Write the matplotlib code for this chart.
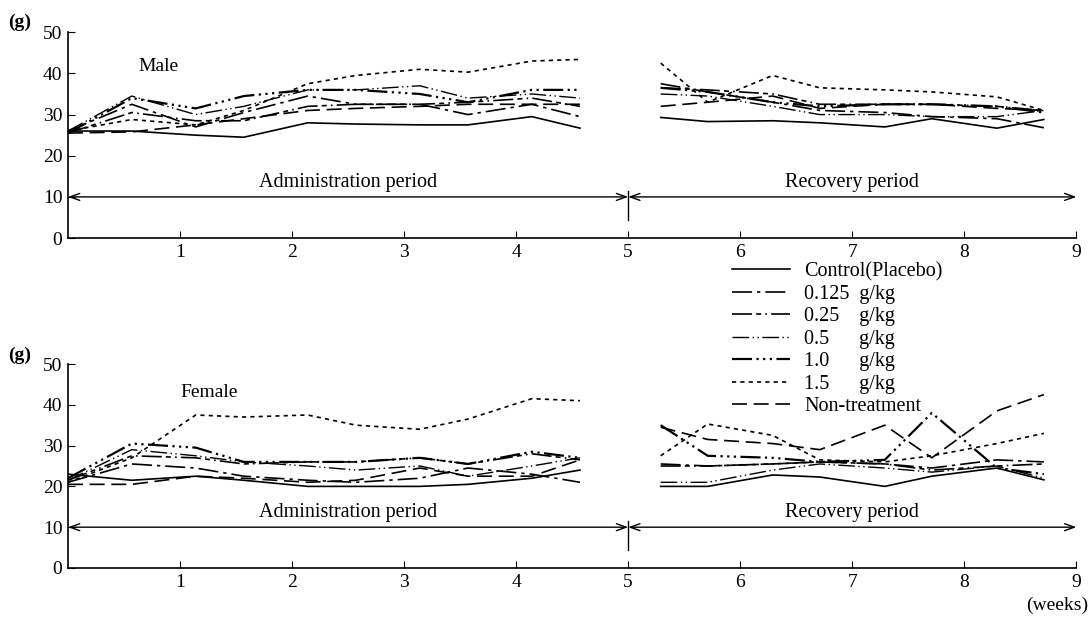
import matplotlib
matplotlib.use("Agg")
import matplotlib.pyplot as plt

plt.rcParams['font.family'] = ['Liberation Serif', 'DejaVu Serif']

# Data: body weight (g) of mice
t_admin = [0, 0.57, 1.14, 1.57, 2.14, 2.57, 3.14, 3.57, 4.14, 4.57]
t_recov = [5.29, 5.71, 6.29, 6.71, 7.29, 7.71, 8.29, 8.71]

groups = ['Control(Placebo)', '0.125  g/kg', '0.25    g/kg', '0.5      g/kg',
          '1.0      g/kg', '1.5      g/kg', 'Non-treatment']

male_admin = [
    [26, 26, 25, 24.5, 28, 27.7, 27.5, 27.5, 29.5, 26.7],
    [26, 32.5, 27, 30.5, 34.5, 32.5, 32.5, 30, 32.5, 29.5],
    [25.5, 30.5, 28.5, 28.5, 32, 32.5, 32.5, 33, 34, 32],
    [26, 34.5, 30, 32, 36, 36, 37, 34, 35, 34],
    [25.5, 34, 31.5, 34.5, 36, 36, 35, 33, 36, 36],
    [26, 28.8, 27.5, 31, 37.5, 39.5, 41, 40.3, 43, 43.4],
    [25.5, 25.8, 27.5, 29, 31, 31.5, 32, 32.5, 32.5, 32.5],
]
male_recov = [
    [29.3, 28.3, 28.5, 28, 27, 29, 26.7, 28.8],
    [37.5, 35.5, 33, 31, 30.5, 29.5, 29, 26.8],
    [36.5, 36, 35, 32.5, 32.5, 32.5, 32, 31],
    [35, 34.5, 32, 30, 30, 29.5, 29.5, 31],
    [36.5, 35.5, 33, 32, 32.5, 32.5, 32, 30.5],
    [42.5, 33, 39.5, 36.5, 36, 35.5, 34.3, 31],
    [32, 33, 34.5, 31.5, 32.5, 32.5, 31.5, 31],
]
female_admin = [
    [23, 21.5, 22.5, 21.5, 20, 20, 20, 20.5, 22, 24],
    [21, 25.5, 24.5, 22.5, 21.5, 21, 22, 24.5, 23, 21],
    [21.5, 27.5, 27, 25.5, 26, 26, 27, 25.5, 28, 26.5],
    [21.5, 29, 27.5, 26, 25, 24, 25, 22.5, 25, 27],
    [22, 30.5, 29.5, 26, 26, 26, 27, 25.5, 28.5, 27],
    [21, 27, 37.5, 37, 37.5, 35, 34, 36.5, 41.5, 41],
    [20.5, 20.5, 22.5, 22, 21, 21.5, 24.5, 22.5, 22.5, 26.5],
]
female_recov = [
    [20, 20, 22.8, 22.3, 20, 22.5, 24.5, 21.6],
    [25.5, 25, 25.5, 26, 25.5, 24.5, 26.5, 26],
    [25, 25, 25.5, 26, 25.5, 24, 25, 25.5],
    [21, 21, 24, 25.5, 24.5, 23.5, 25, 22],
    [35, 27.5, 27, 26, 26.5, 38, 24.5, 23],
    [27.5, 35.3, 32.5, 26.5, 26, 27.5, 30.5, 33],
    [34.5, 31.5, 30.5, 29, 35, 27, 38.5, 42.5],
]

styles = [
    ('-', 1.2),
    ((0, (12, 3, 2, 3)), 1.2),
    ((0, (12, 2.5, 3, 2.5, 1, 2.5)), 1.2),
    ((0, (12, 2.5, 1, 2.5, 1, 2.5)), 1.0),
    ((0, (9, 2, 1, 2, 1, 2, 1, 2)), 1.6),
    ((0, (2.5, 2.5)), 1.2),
    ((0, (9, 4)), 1.2),
]

fig = plt.figure(figsize=(10.89, 6.2), dpi=100)
ax1 = fig.add_axes([0.0624, 0.616, 0.926, 0.332])
ax2 = fig.add_axes([0.0624, 0.0839, 0.926, 0.329])


def draw(ax, admin, recov, title, tx, ty):
    handles = []
    for i in range(len(groups)):
        ls, lw = styles[i]
        h, = ax.plot(t_admin, admin[i], color='black', linestyle=ls, lw=lw, label=groups[i])
        ax.plot(t_recov, recov[i], color='black', linestyle=ls, lw=lw)
        handles.append(h)
    ax.set_xlim(0, 9)
    ax.set_ylim(0, 50)
    ax.spines['top'].set_visible(False)
    ax.spines['right'].set_visible(False)
    ax.spines['left'].set_linewidth(1.2)
    ax.spines['bottom'].set_linewidth(1.2)
    ax.set_xticks(range(1, 10))
    ax.set_yticks(range(0, 51, 10))
    ax.tick_params(axis='both', direction='in', length=5, labelsize=14, pad=4)
    ax.text(tx, ty, title, fontsize=14)
    # period arrows
    arr = dict(arrowstyle='<->,head_length=0.7,head_width=0.25', color='black',
               lw=1.0, shrinkA=0, shrinkB=0)
    ax.annotate('', xy=(0, 10), xytext=(5, 10), arrowprops=arr)
    ax.annotate('', xy=(9, 10), xytext=(5, 10), arrowprops=arr)
    ax.plot([5, 5], [4.5, 11.5], color='black', lw=1.0)
    ax.text(2.5, 11.2, 'Administration period', ha='center', va='bottom', fontsize=14.5)
    ax.text(7.0, 11.2, 'Recovery period', ha='center', va='bottom', fontsize=14.5)
    return handles


handles = draw(ax1, male_admin, male_recov, 'Male', 0.63, 40.5)
draw(ax2, female_admin, female_recov, 'Female', 1.0, 42)

fig.text(8 / 1089, 1 - 22 / 620, '(g)', fontsize=14, va='center', fontweight='bold')
fig.text(8 / 1089, 1 - 355 / 620, '(g)', fontsize=14, va='center', fontweight='bold')
fig.text(1088 / 1089, 1 - 605 / 620, '(weeks)', fontsize=14, ha='right', va='center')

fig.legend(handles=handles, loc='upper left', bbox_to_anchor=(732 / 1089, 1 - 262 / 620),
           frameon=False, fontsize=14.5, handlelength=2.9, handletextpad=0.7,
           labelspacing=0.17, borderpad=0, borderaxespad=0)

fig.savefig('out.png', dpi=100)
